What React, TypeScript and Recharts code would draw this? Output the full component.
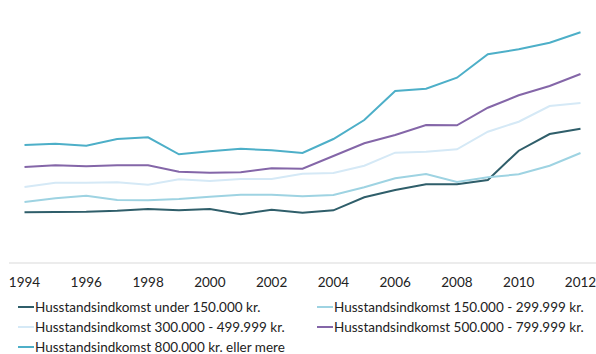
import { LineChart, Line, XAxis, YAxis } from 'recharts'

// Husstandsindkomst-grupper, 1994-2012
const years = [
  '1994', '1995', '1996', '1997', '1998', '1999', '2000', '2001', '2002', '2003',
  '2004', '2005', '2006', '2007', '2008', '2009', '2010', '2011', '2012',
]

const under150 = [50.7, 51, 51.3, 52.3, 54, 52.7, 54, 48.7, 53.3, 50.3, 52.7, 65.7, 73, 78.7, 78.7, 83, 112.3, 129, 134.3]
const from150 = [61, 64.7, 67.3, 63, 62.7, 64, 66.3, 68.3, 68.3, 66.7, 68, 75.7, 84.7, 89, 81, 85.7, 88.7, 97.3, 110]
const from300 = [76, 80.3, 80.3, 80.7, 78.3, 83.7, 82, 84, 84, 89.3, 90, 97.3, 110.3, 111.3, 113.7, 131.3, 141.3, 157, 160]
const from500 = [96, 97.7, 96.7, 97.7, 97.7, 91.3, 90.3, 90.7, 94.7, 94.3, 107, 119.7, 128, 138, 137.7, 155.3, 167.7, 177, 189]
const from800 = [118, 119.3, 117.3, 124, 125.7, 108.7, 111.7, 114.3, 112.7, 110, 124, 143, 172, 174.3, 185.3, 208.7, 213.7, 220.3, 230.7]

const tickYears = ['1994', '1996', '1998', '2000', '2002', '2004', '2006', '2008', '2010', '2012']

const series = [
  { key: 'under150', name: 'Husstandsindkomst under 150.000 kr.', color: '#2F5E6A', values: under150 },
  { key: 'from150', name: 'Husstandsindkomst 150.000 - 299.999 kr.', color: '#9ED3E2', values: from150 },
  { key: 'from300', name: 'Husstandsindkomst 300.000 - 499.999 kr.', color: '#D5E9F6', values: from300 },
  { key: 'from500', name: 'Husstandsindkomst 500.000 - 799.999 kr.', color: '#8466A8', values: from500 },
  { key: 'from800', name: 'Husstandsindkomst 800.000 kr. eller mere', color: '#4DAFC8', values: from800 },
]

const data = years.map((year, i) => {
  const row: Record<string, string | number> = { year }
  series.forEach((s) => {
    row[s.key] = s.values[i]
  })
  return row
})

const font = 'Lato, "Open Sans", sans-serif'

// legend grid: two columns, filled row by row
const legendCols = [18, 317]
const legendRows = [307, 327, 347]

export default function App() {
  return (
    <div style={{ position: 'absolute', left: 0, top: 0, width: 596, height: 354, background: '#fff', fontFamily: font }}>
      <LineChart width={596} height={300} data={data} margin={{ top: 3, right: 0, bottom: 0, left: 9 }}>
        <YAxis hide domain={[0, 260]} />
        <XAxis
          dataKey="year"
          ticks={tickYears}
          interval={0}
          padding={{ left: 15.5, right: 15.5 }}
          height={37}
          tickLine={false}
          tickSize={6}
          tickMargin={8}
          axisLine={{ stroke: '#D9D9D9', strokeWidth: 1 }}
          tick={{ fontSize: 13.5, fill: '#222', fontFamily: font }}
        />
        {series.map((s) => (
          <Line
            key={s.key}
            type="linear"
            dataKey={s.key}
            name={s.name}
            stroke={s.color}
            strokeWidth={2}
            dot={false}
            isAnimationActive={false}
          />
        ))}
      </LineChart>
      {series.map((s, i) => {
        const left = legendCols[i % 2]
        const top = legendRows[Math.floor(i / 2)]
        return (
          <div
            key={s.key}
            style={{ position: 'absolute', left, top: top - 10, height: 20, display: 'flex', alignItems: 'center', fontSize: 13.5, color: '#222', whiteSpace: 'nowrap' }}
          >
            <span style={{ display: 'inline-block', width: 16, height: 2, background: s.color, marginRight: 1 }} />
            {s.name}
          </div>
        )
      })}
    </div>
  )
}
